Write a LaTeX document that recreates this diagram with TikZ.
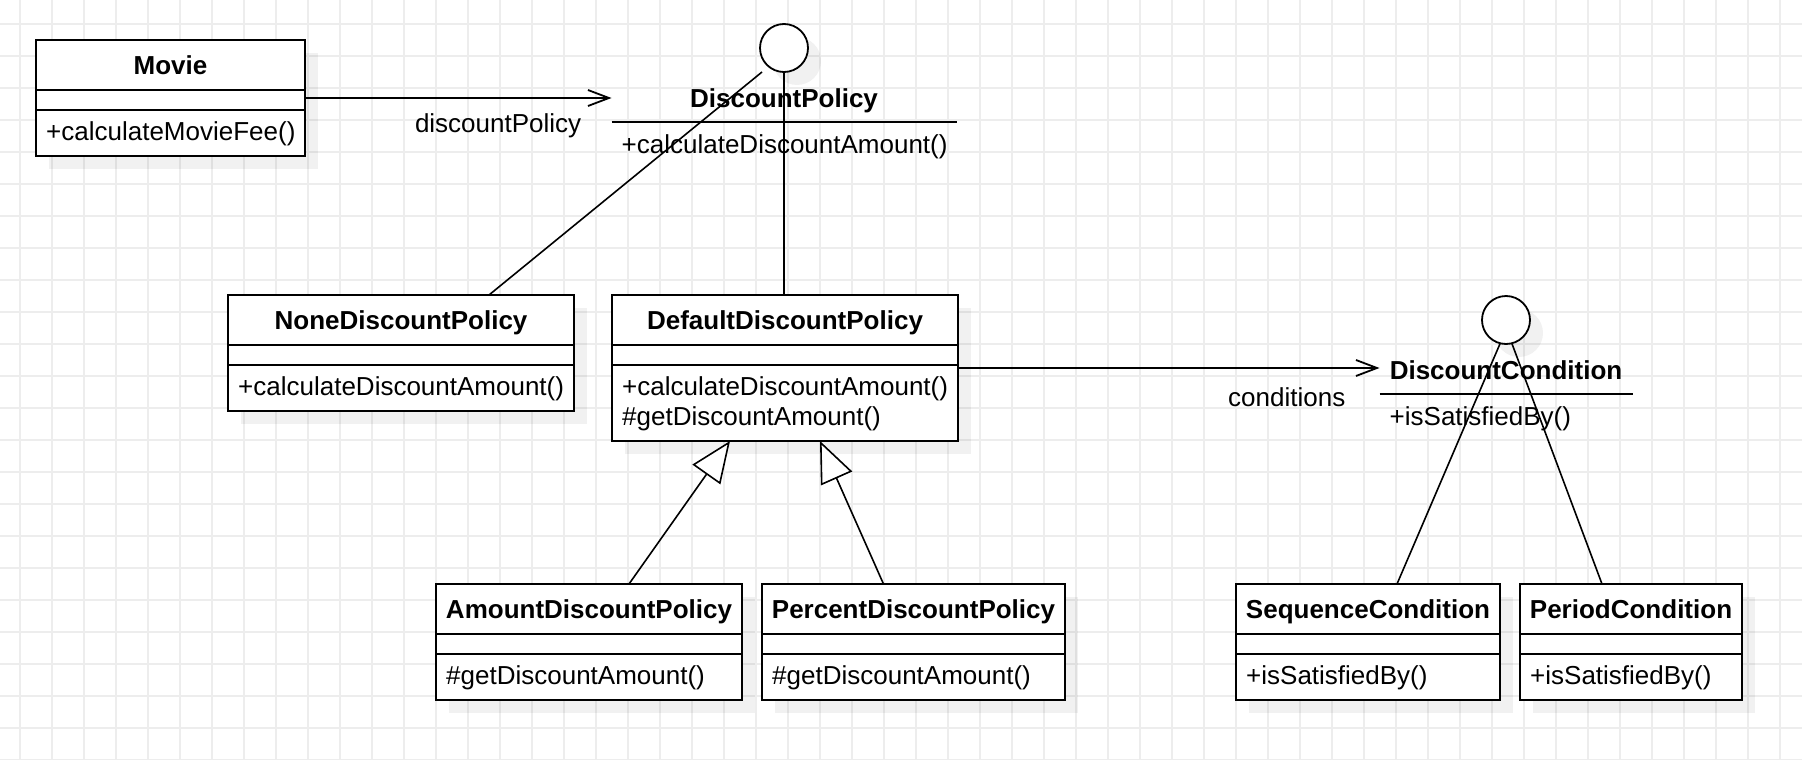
\documentclass[tikz,border=0pt]{standalone}
\usepackage{fontspec}
\setmainfont{Liberation Sans}
\usepackage{xcolor}
\usepackage{tikz}
\usetikzlibrary{positioning,arrows.meta,calc}
\definecolor{gridgray}{RGB}{237,237,237}
\newcommand{\umlfont}{\fontsize{26}{30}\selectfont}
\tikzset{
  gridline/.style={
    draw=gridgray,
    line width=1.1pt
  },
  classshadow/.style={
    fill=black,
    fill opacity=0.055
  },
  classbox/.style={
    draw,
    fill=white,
    line width=2pt,
    inner sep=0pt,
    outer sep=0pt
  },
  classtitle/.style={
    classbox,
    minimum height=50pt,
    font=\umlfont\bfseries,
    text height=18.6pt,
    text depth=0pt
  },
  optext/.style={
    inner sep=0pt,
    anchor=base west
  },
  ifacecircle/.style={
    shape=circle,
    draw,
    fill=white,
    line width=1.8pt,
    minimum size=48pt,
    inner sep=0pt,
    outer sep=0pt
  },
  ifacetitle/.style={
    minimum height=48pt,
    inner sep=0pt,
    outer sep=0pt,
    font=\umlfont\bfseries,
    text height=18.6pt,
    text depth=0pt
  },
  sepline/.style={
    line width=2pt
  },
  assoc/.style={
    line width=1.8pt,
    -{Straight Barb[length=21pt,width=16pt]}
  },
  assoclabel/.style={
    inner sep=0pt
  },
  inherit/.style={
    line width=1.6pt,
    -{Triangle[length=41pt,width=34pt,fill=white]}
  },
  realize/.style={
    line width=1.6pt
  }
}
% name, x, y, width, title, methods height, methods
\newcommand{\umlclass}[7]{%
  \fill[classshadow] ({#2+13},{#3+13}) rectangle ++(#4,{70+#6});
  \node[classtitle, minimum width=#4pt, anchor=north west] (#1-t) at (#2,#3) {#5};
  \node[classbox, minimum width=#4pt, minimum height=20pt, below=0pt of #1-t] (#1-a) {};
  \node[classbox, minimum width=#4pt, minimum height=#6pt, below=0pt of #1-a] (#1-m) {};
  \foreach \op [count=\k] in {#7} {
    \node[optext] (#1-op\k) at ([shift={(10,30*\k)}]#1-m.north west) {\op};
  }
}
% name, x, y, width, title, method
\newcommand{\umliface}[6]{%
  \fill[classshadow] ({#2+13},{#3+13}) circle[radius=24pt];
  \node[ifacecircle] (#1-c) at (#2,#3) {};
  \node[ifacetitle, minimum width=#4pt, below=2pt of #1-c] (#1-t) {#5};
  \draw[sepline] (#1-t.south west) -- (#1-t.south east);
  \node[optext] (#1-op) at ([shift={(10,31)}]#1-t.south west) {#6};
}
\begin{document}
\begin{tikzpicture}[x=1pt, y=-1pt, font=\umlfont]
        \useasboundingbox (0,0) rectangle (1802,760);
        \fill[white] (0,0) rectangle (1802,760);
        \foreach \gx in {20,52,...,1780} {
            \draw[gridline] (\gx,0) -- (\gx,760);
        }
        \foreach \gy in {24,56,...,760} {
            \draw[gridline] (0,\gy) -- (1802,\gy);
        }
        \umlclass{movie}{36}{40}{269}{Movie}{46}{+calculateMovieFee()}
        \umlclass{none}{228}{295}{346}{NoneDiscountPolicy}{46}{+calculateDiscountAmount()}
        \umlclass{default}{612}{295}{346}{DefaultDiscountPolicy}{76}{+calculateDiscountAmount(),\#getDiscountAmount()}
        \umlclass{amount}{436}{584}{306}{AmountDiscountPolicy}{46}{\#getDiscountAmount()}
        \umlclass{percent}{762}{584}{303}{PercentDiscountPolicy}{46}{\#getDiscountAmount()}
        \umlclass{sequence}{1236}{584}{264}{SequenceCondition}{46}{+isSatisfiedBy()}
        \umlclass{period}{1520}{584}{222}{PeriodCondition}{46}{+isSatisfiedBy()}
        \umliface{dp}{784}{48}{345}{DiscountPolicy}{+calculateDiscountAmount()}
        \umliface{dc}{1506}{320}{253}{DiscountCondition}{+isSatisfiedBy()}
        \coordinate (dc-in) at ([yshift=2pt]dc-t.west);
        \draw[assoc] (movie-a.east |- dp-t.west) -- (dp-t.west)
            node[assoclabel, pos=.63, yshift=-28pt] {discountPolicy};
        \draw[assoc] (default-m.east |- dc-in) -- (dc-in)
            node[assoclabel, pos=.78, yshift=-29pt] {conditions};
        \draw[realize] ([xshift=-22pt]dp-c.south) -- ([xshift=88pt]none-t.north);
        \draw[realize] (dp-c.south) -- (dp-c.south |- default-t.north);
        \draw[realize] (dc-c.-104) -- ([xshift=29pt]sequence-t.north);
        \draw[realize] (dc-c.-76) -- ([xshift=-29pt]period-t.north);
        \draw[inherit] ([xshift=40pt]amount-t.north) -- ([xshift=-55pt]default-m.south);
        \draw[inherit] ([xshift=-30pt]percent-t.north) -- ([xshift=35pt]default-m.south);
    \end{tikzpicture}
\end{document}
